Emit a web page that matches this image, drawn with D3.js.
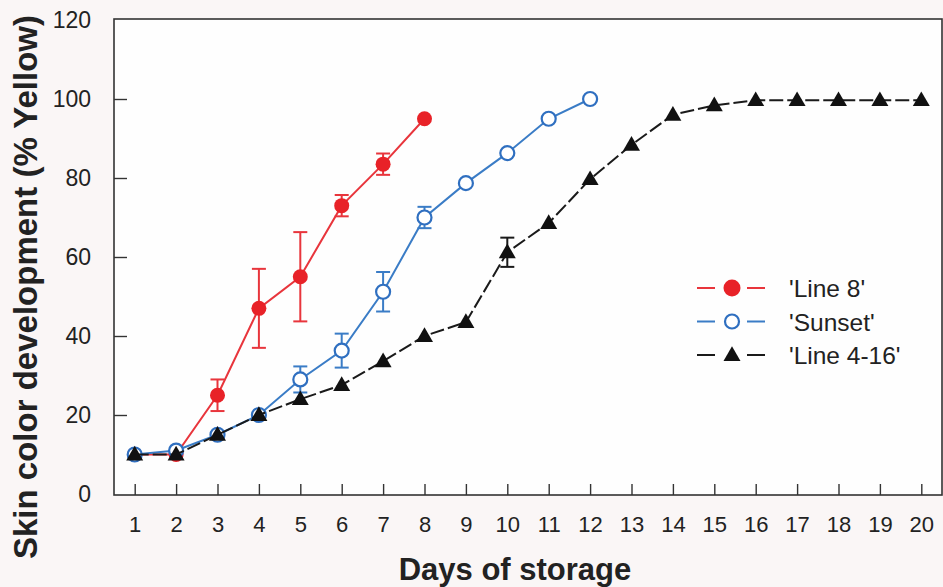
<!DOCTYPE html>
<html>
<head>
<meta charset="utf-8">
<script src="https://cdn.jsdelivr.net/npm/d3@7"></script>
<style>
  html, body { margin: 0; padding: 0; background: #faf6f6; }
  svg { display: block; font-family: "Liberation Sans", Arial, sans-serif; }
</style>
</head>
<body>
<svg id="chart" width="943" height="587"></svg>
<script>
// Days of storage
const days = d3.range(1, 21);

// Skin colour development (% yellow) per cultivar
const line8Days = [1, 2, 3, 4, 5, 6, 7, 8];
const line8Values = [10, 10, 25, 47, 55, 73, 83.5, 95];
const line8Err = [0, 0, 4, 10, 11.3, 2.7, 2.7, 0];

const sunsetDays = [1, 2, 3, 4, 5, 6, 7, 8, 9, 10, 11, 12];
const sunsetValues = [10, 11, 15, 20, 29, 36.3, 51.2, 70, 78.7, 86.3, 95, 100];
const sunsetErr = [0, 0, 0, 0, 3.3, 4.3, 5, 2.7, 0, 0, 0, 0];

const line416Days = d3.range(1, 21);
const line416Values = [10, 10, 15, 20, 24, 27.6, 33.6, 40, 43.5, 61.2, 68.6, 79.7, 88.4, 96, 98.4, 99.7, 99.7, 99.7, 99.7, 99.7];
const line416Err = [0, 0, 0, 0, 0, 0, 0, 0, 0, 3.7, 0, 0, 0, 0, 0, 0, 0, 0, 0, 0];

const yTicks = [0, 20, 40, 60, 80, 100, 120];
const seriesNames = ["'Line 8'", "'Sunset'", "'Line 4-16'"];

const svg = d3.select("#chart");
const plotLeft = 114, plotRight = 942, plotTop = 19, plotBottom = 495;

const x = d3.scaleLinear().domain([0.5, 20.5]).range([plotLeft, plotRight]);
const y = d3.scaleLinear().domain([0, 120]).range([plotBottom - 1, plotTop + 1]);

// plot area
svg.append("rect")
  .attr("x", plotLeft).attr("y", plotTop)
  .attr("width", plotRight - plotLeft).attr("height", plotBottom - plotTop)
  .attr("fill", "#fefefe")
  .attr("stroke", "#333").attr("stroke-width", 1.6);

// x axis, ticks pointing into the plot
const xAxis = d3.axisBottom(x).tickValues(days).tickSize(-11).tickPadding(21).tickFormat(d3.format("d"));
const gx = svg.append("g").attr("transform", `translate(0,${plotBottom})`).call(xAxis);
gx.select(".domain").remove();
gx.selectAll(".tick line").attr("stroke", "#333").attr("stroke-width", 1.4);
gx.selectAll(".tick text").attr("fill", "#222").attr("font-size", 22);

const yAxis = d3.axisLeft(y).tickValues(yTicks).tickSize(-13).tickPadding(23);
const gy = svg.append("g").attr("transform", `translate(${plotLeft},0)`).call(yAxis);
gy.select(".domain").remove();
gy.selectAll(".tick line").attr("stroke", "#333").attr("stroke-width", 1.4)
  .filter(d => d === 0 || d === 120).remove();
gy.selectAll(".tick text").attr("fill", "#222").attr("font-size", 23);

// axis titles
svg.append("text")
  .attr("x", 515).attr("y", 580)
  .attr("text-anchor", "middle")
  .attr("font-size", 31).attr("font-weight", "bold").attr("fill", "#222")
  .text("Days of storage");

svg.append("text")
  .attr("transform", "translate(37,287) rotate(-90)")
  .attr("text-anchor", "middle")
  .attr("font-size", 33).attr("font-weight", "bold").attr("fill", "#222")
  .text("Skin color development (% Yellow)");

const series = [
  { name: seriesNames[0], days: line8Days, values: line8Values, err: line8Err,
    line: "#e8353c", mark: "#e82228", shape: "dot", dash: null },
  { name: seriesNames[1], days: sunsetDays, values: sunsetValues, err: sunsetErr,
    line: "#3a7cc6", mark: "#2f6fc0", shape: "ring", dash: null },
  { name: seriesNames[2], days: line416Days, values: line416Values, err: line416Err,
    line: "#1a1a1a", mark: "#111", shape: "tri", dash: "14,4" }
];

const triangle = d3.symbol().type(d3.symbolTriangle).size(125);

function drawMarker(g, s, cx, cy, big) {
  if (s.shape === "dot") {
    g.append("circle").attr("cx", cx).attr("cy", cy).attr("r", big ? 8.5 : 7.5).attr("fill", s.mark);
  } else if (s.shape === "ring") {
    g.append("circle").attr("cx", cx).attr("cy", cy).attr("r", 7)
      .attr("fill", "#fff").attr("stroke", s.mark).attr("stroke-width", 2.2);
  } else {
    g.append("path").attr("d", triangle).attr("transform", `translate(${cx},${cy + 1})`)
      .attr("fill", s.mark);
  }
}

const lineGen = d3.line().x(d => x(d[0])).y(d => y(d[1]));

series.forEach(s => {
  const g = svg.append("g");
  const pts = s.days.map((d, i) => [d, s.values[i], s.err[i]]);
  g.append("path").datum(pts)
    .attr("d", lineGen)
    .attr("fill", "none").attr("stroke", s.line).attr("stroke-width", 2)
    .attr("stroke-dasharray", s.dash);
  pts.filter(p => p[2] > 0).forEach(p => {
    const cx = x(p[0]);
    const y1 = y(p[1] + p[2]), y2 = y(p[1] - p[2]);
    g.append("line").attr("x1", cx).attr("x2", cx).attr("y1", y1).attr("y2", y2)
      .attr("stroke", s.line).attr("stroke-width", 2);
    [y1, y2].forEach(yy => g.append("line")
      .attr("x1", cx - 7).attr("x2", cx + 7).attr("y1", yy).attr("y2", yy)
      .attr("stroke", s.line).attr("stroke-width", 2));
  });
  pts.forEach(p => drawMarker(g, s, x(p[0]), y(p[1]), false));
});

// legend
const legend = svg.append("g");
series.forEach((s, i) => {
  const ly = 288 + i * 33.5;
  legend.append("line").attr("x1", 697).attr("x2", 715).attr("y1", ly).attr("y2", ly)
    .attr("stroke", s.line).attr("stroke-width", 2);
  legend.append("line").attr("x1", 747).attr("x2", 765).attr("y1", ly).attr("y2", ly)
    .attr("stroke", s.line).attr("stroke-width", 2);
  drawMarker(legend, s, 732, ly, true);
  legend.append("text").attr("x", 789).attr("y", ly + 9)
    .attr("font-size", 24.5).attr("fill", "#222").text(s.name);
});
</script>
</body>
</html>
